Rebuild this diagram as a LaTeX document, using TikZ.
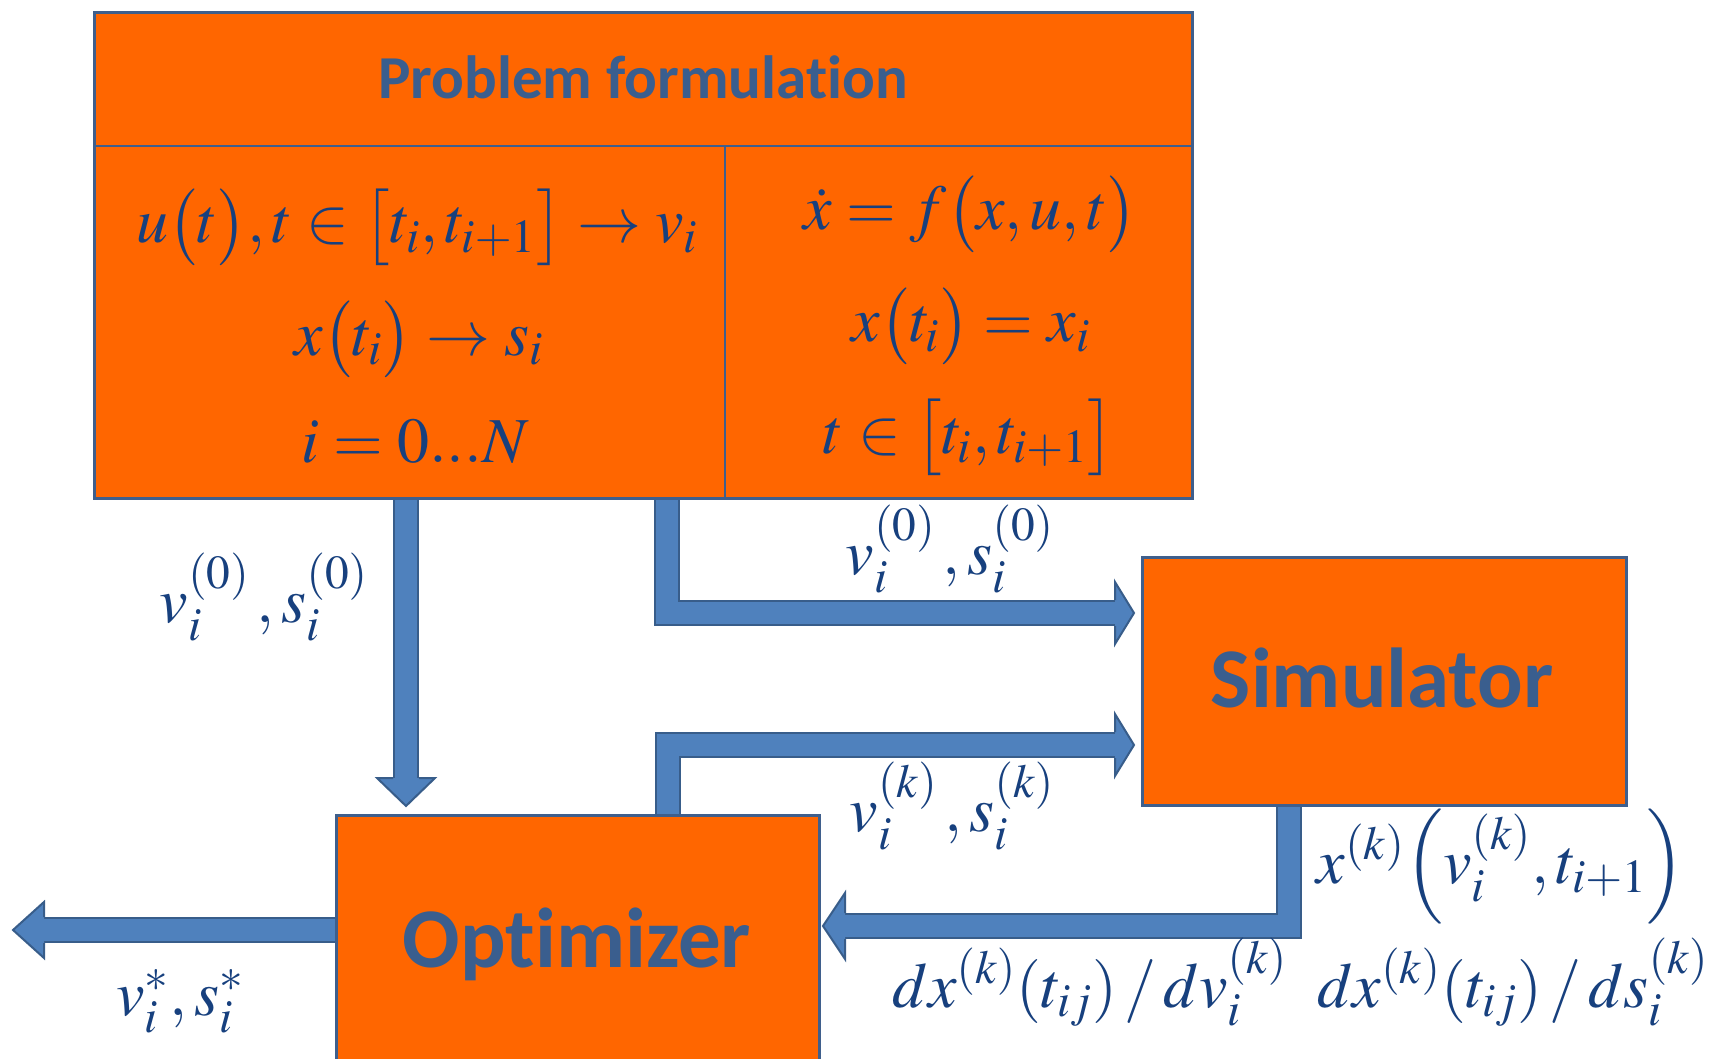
\documentclass[tikz,border=0pt]{standalone}
\usepackage{mathptmx}
\usepackage[no-math]{fontspec}
\newfontfamily\calibfont[Ligatures={NoCommon,NoRare,NoDiscretionary}]{Carlito}
\usetikzlibrary{calc}
\definecolor{orng}{HTML}{FF6600}
\definecolor{boxb}{HTML}{3F5F8C}
\definecolor{arrf}{HTML}{4F81BD}
\definecolor{arrb}{HTML}{385D8A}
\definecolor{ttext}{HTML}{3A5E8E}
\definecolor{mtext}{HTML}{17407E}
\pgfdeclarelayer{background}
\pgfsetlayers{background,main}
\tikzset{
  blockbox/.style={draw=boxb, fill=orng, line width=1.4pt, inner sep=0pt, anchor=north west},
  divline/.style={draw=boxb, line width=1.4pt},
  shaftb/.style={draw=arrb, line width=13pt},
  shaftf/.style={draw=arrf, line width=11pt},
  headfill/.style={fill=arrf},
  headline/.style={draw=arrb, line width=1pt, line join=miter},
  ml/.style={text=mtext, font=\fontsize{32pt}{38pt}\selectfont, anchor=base, inner sep=0pt},
  ttl/.style={text=ttext, font=\calibfont\bfseries\fontsize{30.5pt}{36pt}\selectfont, anchor=base, inner sep=0pt},
  bigttl/.style={text=ttext, font=\calibfont\bfseries\fontsize{42.5pt}{50pt}\selectfont, anchor=base, inner sep=0pt},
}
\begin{document}
\begin{tikzpicture}[x=0.5pt,y=-0.5pt]
\useasboundingbox (0,0) rectangle (1713,1059);
\clip (0,0) rectangle (1713,1059);

% boxes
\node[blockbox, minimum width=549pt, minimum height=243pt] (pf) at (93,11) {};
\node[blockbox, minimum width=242pt, minimum height=124pt] (sim) at (1141,556) {};
\node[blockbox, minimum width=241.5pt, minimum height=135pt] (opt) at (335,814) {};

\coordinate (hl) at (93,146);
\coordinate (vd) at (725,146);
\draw[divline] (hl) -- (hl -| pf.east);
\draw[divline] (vd) -- (vd |- pf.south);

% arrow anchor coordinates
\coordinate (a1s) at (406,497);
\coordinate (a1b) at (406,778);
\coordinate (a2s) at (667,497);
\coordinate (a2c) at (667,613);
\coordinate (a2b) at (1115,613);
\coordinate (a3s) at (668,814);
\coordinate (a3c) at (668,745);
\coordinate (a3b) at (1115,745);
\coordinate (a4s) at (1289,804);
\coordinate (a4c) at (1289,926);
\coordinate (a4b) at (845,926);
\coordinate (a5s) at (335,930);
\coordinate (a5b) at (44,930);

\begin{pgfonlayer}{background}
\fill[white] (0,0) rectangle (1713,1059);
% arrow 1: problem formulation -> optimizer
\draw[shaftb] (a1s) -- (a1b);
\draw[shaftf] (a1s) -- (a1b);
\fill[headfill] (377,778) -- (406,806) -- (435,778) -- cycle;
\draw[headline] (393,778) -- (377,778) -- (406,806) -- (435,778) -- (419,778);
% arrow 2: problem formulation -> simulator
\draw[shaftb] (a2s) -- (a2c) -- (a2b);
\draw[shaftf] (a2s) -- (a2c) -- (a2b);
\fill[headfill] (1115,582) -- (1134,613) -- (1115,644) -- cycle;
\draw[headline] (1115,600) -- (1115,582) -- (1134,613) -- (1115,644) -- (1115,626);
% arrow 3: optimizer -> simulator
\draw[shaftb] (a3s) -- (a3c) -- (a3b);
\draw[shaftf] (a3s) -- (a3c) -- (a3b);
\fill[headfill] (1115,714) -- (1134,745) -- (1115,776) -- cycle;
\draw[headline] (1115,732) -- (1115,714) -- (1134,745) -- (1115,776) -- (1115,758);
% arrow 4: simulator -> optimizer
\draw[shaftb] (a4s) -- (a4c) -- (a4b);
\draw[shaftf] (a4s) -- (a4c) -- (a4b);
\fill[headfill] (845,893) -- (823,926) -- (845,959) -- cycle;
\draw[headline] (845,913) -- (845,893) -- (823,926) -- (845,959) -- (845,939);
% arrow 5: optimizer -> out
\draw[shaftb] (a5s) -- (a5b);
\draw[shaftf] (a5s) -- (a5b);
\fill[headfill] (44,902) -- (13,930) -- (44,958) -- cycle;
\draw[headline] (44,917) -- (44,902) -- (13,930) -- (44,958) -- (44,943);
\end{pgfonlayer}

% titles
\node[ttl] (pft) at (643,99) {Problem formulation};
\node[bigttl] (simt) at (1382,707) {Simulator};
\node[bigttl] (optt) at (577,967) {Optimizer};

% formulas in problem formulation box
\node[ml] (l1) at (417,243) {$u\bigl(t\bigr),t\in\bigl[t_i,t_{i+1}\bigr]\rightarrow v_i$};
\node[ml] (l2) at (419,355) {$x\bigl(t_i\bigr)\rightarrow s_i$};
\node[ml] (l3) at (415,462) {$i=0...N$};
\node[ml] (r1) at (970,230) {$\dot x = f\bigl(x,u,t\bigr)$};
\node[ml] (r2) at (971,342) {$x\bigl(t_i\bigr)=x_i$};
\node[ml] (r3) at (969,453) {$t\in\bigl[t_i,t_{i+1}\bigr]$};

% connector labels
\node[ml] (la) at (264,622) {$v_i^{(0)}\,,s_i^{(0)}$};
\node[ml] (lb) at (950,574) {$v_i^{(0)}\,,s_i^{(0)}$};
\node[ml] (lc) at (952,831) {$v_i^{(k)}\,,s_i^{(k)}$};
\node[ml] (ld) at (1501,883) {$x^{(k)}\Bigl(v_i^{(k)},t_{i+1}\Bigr)$};
\node[ml] (le) at (1090,1007) {$dx^{(k)}(t_{ij})\,/\,dv_i^{(k)}$};
\node[ml] (lf) at (1513,1007) {$dx^{(k)}(t_{ij})\,/\,ds_i^{(k)}$};
\node[ml] (lg) at (180,1015) {$v_i^{*},s_i^{*}$};
\end{tikzpicture}
\end{document}
